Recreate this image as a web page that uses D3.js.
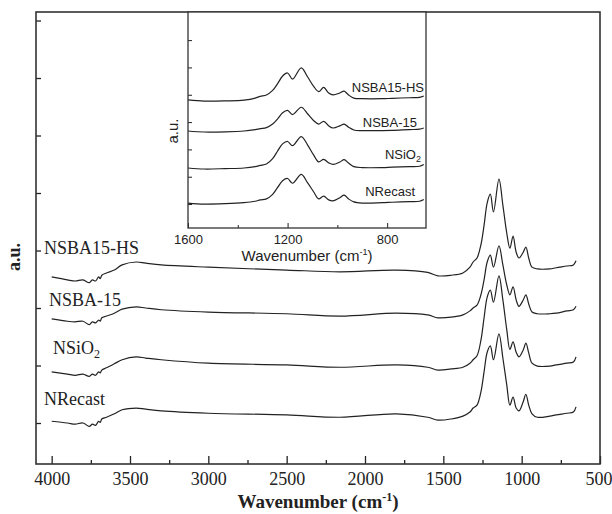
<!DOCTYPE html>
<html>
<head>
<meta charset="utf-8">
<script src="https://cdn.jsdelivr.net/npm/d3@7"></script>
<style>
  body { margin: 0; background: #fff; }
  svg { display: block; }
</style>
</head>
<body>
<script>
// FTIR spectra, shared wavenumber grid (cm-1)
const wavenumbers = [4000,3900,3850,3800,3760,3740,3720,3700,3690,3680,3650,3600,3550,3460,3400,3300,3000,2500,2160,1800,1600,1535,1450,1375,1330,1310,1285,1260,1240,1220,1200,1180,1145,1120,1095,1075,1055,1035,1017,990,973,955,934,900,820,780,711,670,653];

const seriesNames = ["NSBA15-HS", "NSBA-15", "NSiO2", "NRecast"];

// intensities (a.u., already stacked as in the figure)
const nsba15hs = [2.54,2.49,2.47,2.49,2.44,2.49,2.47,2.54,2.51,2.57,2.61,2.66,2.75,2.80,2.78,2.75,2.71,2.66,2.63,2.66,2.62,2.56,2.57,2.61,2.71,2.80,2.87,3.10,3.44,3.83,3.98,3.67,4.24,3.79,3.30,3.04,3.25,2.97,2.87,2.97,3.06,2.87,2.71,2.68,2.68,2.70,2.73,2.75,2.82];
const nsba15 = [1.81,1.77,1.76,1.77,1.71,1.76,1.74,1.79,1.77,1.83,1.86,1.91,1.98,2.02,2.00,1.97,1.93,1.90,1.86,1.91,1.88,1.83,1.84,1.88,1.95,2.00,2.05,2.23,2.49,2.80,2.92,2.71,3.08,2.75,2.40,2.23,2.37,2.14,2.03,2.14,2.23,2.07,1.93,1.90,1.90,1.91,1.95,1.97,2.03];
const nsio2 = [0.89,0.85,0.83,0.85,0.81,0.85,0.83,0.89,0.87,0.92,0.96,1.03,1.10,1.15,1.13,1.10,1.04,1.01,0.97,1.01,0.97,0.92,0.94,0.97,1.04,1.10,1.17,1.44,1.83,2.19,2.31,2.10,2.56,2.14,1.62,1.28,1.41,1.23,1.15,1.27,1.39,1.22,1.04,0.99,0.99,1.01,1.04,1.06,1.15];
const nrecast = [0.03,0.00,-0.02,0.00,-0.06,-0.02,-0.04,0.03,0.01,0.07,0.10,0.16,0.23,0.26,0.24,0.21,0.17,0.14,0.10,0.16,0.10,0.05,0.07,0.12,0.19,0.26,0.31,0.54,0.89,1.23,1.34,1.10,1.55,1.13,0.66,0.31,0.45,0.26,0.21,0.37,0.50,0.31,0.16,0.10,0.12,0.14,0.17,0.19,0.28];

// the inset restacks the same spectra with other shifts
const insetShifts = [2.64, 1.81, 0.85, -0.05];

const mainXTicks = [4000, 3500, 3000, 2500, 2000, 1500, 1000, 500];
const mainXMinor = [3750, 3250, 2750, 2250, 1750, 1250, 750];
const insetXTicks = [1600, 1200, 800];
const insetXMinor = [1400, 1000];

const allSeries = [nsba15hs, nsba15, nsio2, nrecast];

const width = 612, height = 514;
const svg = d3.select("body").append("svg")
  .attr("width", width).attr("height", height);

const ink = "#222";
const serif = "'Liberation Serif', 'Times New Roman', serif";
const sans = "'Liberation Sans', Arial, sans-serif";

// ---------- main chart ----------
const x = d3.scaleLinear().domain([4100, 500]).range([36, 600]);
const y = d3.scaleLinear().domain([-0.713, 7.148]).range([464, 12]);

const line = d3.line()
  .x((d, i) => x(wavenumbers[i]))
  .y(d => y(d))
  .curve(d3.curveCatmullRom.alpha(0.5));

svg.append("g").selectAll("path")
  .data(allSeries)
  .join("path")
  .attr("d", line)
  .attr("fill", "none")
  .attr("stroke", ink)
  .attr("stroke-width", 1.2);

// minor x ticks
svg.append("g")
  .attr("transform", `translate(0,${y.range()[0]})`)
  .call(d3.axisBottom(x).tickValues(mainXMinor).tickSize(-4).tickFormat(""))
  .call(g => g.select(".domain").remove())
  .call(g => g.selectAll("line").attr("stroke", ink).attr("stroke-width", 1.3));

const xAxis = svg.append("g")
  .attr("transform", `translate(0,${y.range()[0]})`)
  .call(d3.axisBottom(x).tickValues(mainXTicks).tickSize(-8).tickPadding(8)
    .tickSizeOuter(0).tickFormat(d3.format("d")));
xAxis.select(".domain").remove();
xAxis.selectAll("line").attr("stroke", ink).attr("stroke-width", 1.3);
xAxis.selectAll("text")
  .attr("font-family", serif).attr("font-size", 18).attr("fill", ink);
// last label sits at the page edge, nudge it in
xAxis.selectAll("text").filter(d => d === 500).attr("dx", -1.5);

const yAxis = svg.append("g")
  .attr("transform", `translate(${x.range()[0]},0)`)
  .call(d3.axisLeft(y).tickValues(d3.range(0, 8)).tickSize(-5).tickFormat(""));
yAxis.select(".domain").remove();
yAxis.selectAll("line").attr("stroke", ink).attr("stroke-width", 1.3);

// frame
svg.append("rect")
  .attr("x", 36).attr("y", 12).attr("width", 564).attr("height", 452)
  .attr("fill", "none").attr("stroke", "#333").attr("stroke-width", 1.6);

// series labels
const mainLabels = [
  { name: "NSBA15-HS", x: 44, y: 254 },
  { name: "NSBA-15", x: 49, y: 306 },
  { name: "NSiO", sub: "2", x: 53, y: 354 },
  { name: "NRecast", x: 44, y: 405 }
];
mainLabels.forEach(l => {
  const t = svg.append("text")
    .attr("x", l.x).attr("y", l.y)
    .attr("font-family", serif).attr("font-size", 18).attr("fill", ink);
  t.append("tspan").text(l.name);
  if (l.sub) t.append("tspan").attr("font-size", 12).attr("dy", 4).text(l.sub);
});

// axis titles
svg.append("text")
  .attr("transform", "translate(20,257) rotate(-90)")
  .attr("text-anchor", "middle")
  .attr("font-family", serif).attr("font-size", 18).attr("font-weight", "bold")
  .attr("fill", ink)
  .text("a.u.");

const xt = svg.append("text")
  .attr("x", 318).attr("y", 508)
  .attr("text-anchor", "middle")
  .attr("font-family", serif).attr("font-size", 19).attr("font-weight", "bold")
  .attr("fill", ink);
xt.append("tspan").text("Wavenumber (cm");
xt.append("tspan").attr("font-size", 12).attr("dy", -7).text("-1");
xt.append("tspan").attr("dy", 7).text(")");

// ---------- inset ----------
const ix = d3.scaleLinear().domain([1600, 644]).range([188, 426]);
const iy = d3.scaleLinear().domain([-1.21, 9.70]).range([228, 12]);

const inset = svg.append("g");
inset.append("rect")
  .attr("x", 188).attr("y", 12).attr("width", 238).attr("height", 216)
  .attr("fill", "#fff");

const insetData = allSeries.map((s, k) =>
  s.map((v, i) => ({ w: wavenumbers[i], v: v + insetShifts[k] }))
   .filter(d => d.w <= 1600));

const iline = d3.line()
  .x(d => ix(d.w))
  .y(d => iy(d.v))
  .curve(d3.curveCatmullRom.alpha(0.5));

inset.append("g").selectAll("path")
  .data(insetData)
  .join("path")
  .attr("d", iline)
  .attr("fill", "none")
  .attr("stroke", ink)
  .attr("stroke-width", 1.2);

inset.append("g")
  .attr("transform", "translate(0,228)")
  .call(d3.axisBottom(ix).tickValues(insetXMinor).tickSize(-3).tickFormat(""))
  .call(g => g.select(".domain").remove())
  .call(g => g.selectAll("line").attr("stroke", ink));

const ixAxis = inset.append("g")
  .attr("transform", "translate(0,228)")
  .call(d3.axisBottom(ix).tickValues(insetXTicks).tickSize(-5).tickPadding(7)
    .tickFormat(d3.format("d")));
ixAxis.select(".domain").remove();
ixAxis.selectAll("line").attr("stroke", ink);
ixAxis.selectAll("text")
  .attr("font-family", sans).attr("font-size", 13).attr("fill", ink);

const iyAxis = inset.append("g")
  .attr("transform", "translate(188,0)")
  .call(d3.axisLeft(iy).tickValues(d3.range(0, 8.4, 1.38)).tickSize(-4).tickFormat(""));
iyAxis.select(".domain").remove();
iyAxis.selectAll("line").attr("stroke", ink);

inset.append("rect")
  .attr("x", 188).attr("y", 12).attr("width", 238).attr("height", 216)
  .attr("fill", "none").attr("stroke", "#333").attr("stroke-width", 1.3);

const insetLabels = [
  { name: "NSBA15-HS", x: 424, y: 92 },
  { name: "NSBA-15", x: 417, y: 127 },
  { name: "NSiO", sub: "2", x: 421, y: 159 },
  { name: "NRecast", x: 415, y: 196 }
];
insetLabels.forEach(l => {
  const t = inset.append("text")
    .attr("x", l.x).attr("y", l.y)
    .attr("text-anchor", "end")
    .attr("font-family", sans).attr("font-size", 13).attr("fill", ink);
  t.append("tspan").text(l.name);
  if (l.sub) t.append("tspan").attr("font-size", 9).attr("dy", 3).text(l.sub);
});

inset.append("text")
  .attr("transform", "translate(178,131) rotate(-90)")
  .attr("text-anchor", "middle")
  .attr("font-family", sans).attr("font-size", 15).attr("fill", ink)
  .text("a.u.");

const it = inset.append("text")
  .attr("x", 307).attr("y", 261)
  .attr("text-anchor", "middle")
  .attr("font-family", sans).attr("font-size", 15).attr("fill", ink);
it.append("tspan").text("Wavenumber (cm");
it.append("tspan").attr("font-size", 9).attr("dy", -6).text("-1");
it.append("tspan").attr("dy", 6).text(")");
</script>
</body>
</html>
